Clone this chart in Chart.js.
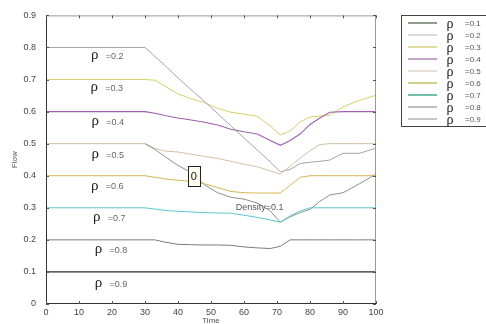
<!DOCTYPE html>
<html><head><meta charset="utf-8">
<script src="https://cdn.jsdelivr.net/npm/chart.js@4/dist/chart.umd.min.js"></script>
<style>html,body{margin:0;padding:0;background:#fff;overflow:hidden}#wrap{width:486px;height:324px;position:relative}</style>
</head><body><div id="wrap"><canvas id="c" width="486" height="324"></canvas></div>
<script>
const times = [0,30,33,36,40,44,48,52,56,60,64,68,71,74,77,80,83,86,90,95,100];
const flowRho01 = [null,0.5,0.482,0.46,0.432,0.41,0.372,0.347,0.333,0.327,0.315,0.29,0.255,0.272,0.285,0.295,0.32,0.34,0.347,0.375,0.405];
const flowRho02 = [0.8,0.8,0.772,0.744,0.705,0.668,0.632,0.594,0.556,0.518,0.48,0.443,0.412,0.42,0.438,0.442,0.445,0.449,0.47,0.47,0.486];
const flowRho03 = [0.7,0.7,0.698,0.68,0.655,0.64,0.628,0.61,0.598,0.592,0.585,0.555,0.527,0.54,0.568,0.583,0.586,0.588,0.615,0.635,0.651];
const flowRho04 = [0.6,0.6,0.595,0.588,0.58,0.574,0.567,0.558,0.545,0.537,0.53,0.51,0.495,0.51,0.53,0.56,0.58,0.598,0.6,0.6,0.6];
const flowRho05 = [0.5,0.5,0.485,0.477,0.474,0.467,0.46,0.454,0.445,0.436,0.428,0.415,0.405,0.43,0.455,0.478,0.497,0.5,0.5,0.5,0.5];
const flowRho06 = [0.4,0.4,0.395,0.39,0.386,0.382,0.375,0.363,0.351,0.347,0.346,0.346,0.346,0.37,0.395,0.4,0.4,0.4,0.4,0.4,0.4];
const flowRho07 = [0.3,0.3,0.296,0.292,0.289,0.287,0.285,0.284,0.283,0.277,0.27,0.262,0.255,0.275,0.29,0.3,0.3,0.3,0.3,0.3,0.3];
const flowRho08 = [0.2,0.2,0.2,0.193,0.186,0.185,0.184,0.184,0.183,0.178,0.175,0.173,0.18,0.2,0.2,0.2,0.2,0.2,0.2,0.2,0.2];
const flowRho09 = [0.1,0.1,0.1,0.1,0.1,0.1,0.1,0.1,0.1,0.1,0.1,0.1,0.1,0.1,0.1,0.1,0.1,0.1,0.1,0.1,0.1];

const legendNames = ['=0.1','=0.2','=0.3','=0.4','=0.5','=0.6','=0.7','=0.8','=0.9'];
const legendColors = ['#566a52','#c8c8c8','#d2ca72','#a274aa','#dccdbb','#bcb44e','#2c9c7c','#9c9c9c','#a8a8a8'];
const lineColors = ['#8e928c','#a4a4ac','#d6cf6a','#a060ae','#d2c2a2','#d8b454','#5cc6d2','#7c7c7c','#2a2a3a'];
const lineWidths = [1,1,1,1.1,1,1,1,1,1.3];

const inPlotLabels = ['=0.2','=0.3','=0.4','=0.5','=0.6','=0.7','=0.8','=0.9'];
const inPlotLabelX = [14.8,14.6,14.9,14.9,14.8,15.4,15.9,15.9];
const inPlotLabelY = [0.776,0.676,0.57,0.467,0.368,0.271,0.171,0.065];

const xTickLabels = ['0','10','20','30','40','50','60','70','80','90','100'];
const yTickLabels = ['0','0.1','0.2','0.3','0.4','0.5','0.6','0.7','0.8','0.9'];

const seriesFlows = [flowRho01,flowRho02,flowRho03,flowRho04,flowRho05,flowRho06,flowRho07,flowRho08,flowRho09];
const drawOrder = [8,7,6,5,0,4,3,1,2];
const datasets = drawOrder.map(i => ({
  label: legendNames[i],
  data: times.map((t,k) => ({x:t, y:seriesFlows[i][k]})),
  borderColor: lineColors[i],
  borderWidth: lineWidths[i],
  pointRadius: 0,
  tension: 0,
  fill: false,
  spanGaps: false
}));

const annot = {
  id: 'annot',
  beforeDraw(chart){
    const ctx = chart.ctx;
    ctx.save(); ctx.fillStyle = '#fff'; ctx.fillRect(0,0,chart.width,chart.height); ctx.restore();
  },
  afterDatasetsDraw(chart){
    const {ctx, chartArea:a, scales:{x,y}} = chart;
    ctx.save();
    ctx.lineWidth = 1;
    ctx.strokeStyle = '#9a9a9a';
    ctx.beginPath();
    ctx.moveTo(a.left, a.top+0.5); ctx.lineTo(a.right, a.top+0.5);
    ctx.moveTo(a.right-0.5, a.top); ctx.lineTo(a.right-0.5, a.bottom);
    ctx.stroke();
    ctx.strokeStyle = '#333';
    ctx.beginPath();
    ctx.moveTo(a.left+0.5, a.top); ctx.lineTo(a.left+0.5, a.bottom);
    ctx.moveTo(a.left, a.bottom-0.5); ctx.lineTo(a.right, a.bottom-0.5);
    ctx.stroke();
    ctx.strokeStyle = '#555';
    ctx.beginPath();
    x.ticks.forEach(t => {
      const px = Math.round(x.getPixelForValue(t.value))+0.5;
      ctx.moveTo(px, a.bottom); ctx.lineTo(px, a.bottom-3);
      ctx.moveTo(px, a.top); ctx.lineTo(px, a.top+3);
    });
    y.ticks.forEach(t => {
      const py = Math.round(y.getPixelForValue(t.value))+0.5;
      ctx.moveTo(a.left, py); ctx.lineTo(a.left+3, py);
      ctx.moveTo(a.right, py); ctx.lineTo(a.right-3, py);
    });
    ctx.stroke();
    inPlotLabels.forEach((s,i) => {
      const px = x.getPixelForValue(inPlotLabelX[i]);
      const py = y.getPixelForValue(inPlotLabelY[i]);
      ctx.fillStyle = '#222';
      ctx.font = '15px "Liberation Serif"';
      ctx.textAlign = 'center'; ctx.textBaseline = 'middle';
      ctx.fillText('ρ', px, py);
      ctx.fillStyle = '#666';
      ctx.font = '9px "Liberation Sans"';
      ctx.textAlign = 'left';
      ctx.fillText(s, px+11, py+1);
    });
    const bx = x.getPixelForValue(44.8), by = y.getPixelForValue(0.4);
    ctx.fillStyle = '#fffdf0';
    ctx.fillRect(bx-6, by-10, 12, 20);
    ctx.strokeStyle = '#222'; ctx.lineWidth = 1;
    ctx.strokeRect(Math.round(bx-6)+0.5, Math.round(by-10)+0.5, 12, 20);
    ctx.fillStyle = '#111';
    ctx.font = '11px "Liberation Sans"';
    ctx.textAlign = 'center'; ctx.textBaseline = 'middle';
    ctx.fillText('0', bx, by+1);
    ctx.fillStyle = '#555';
    ctx.font = '9px "Liberation Sans"';
    ctx.textAlign = 'left';
    ctx.fillText('Density=0.1', x.getPixelForValue(57.5), y.getPixelForValue(0.302));
    ctx.fillStyle = '#555';
    ctx.font = '8px "Liberation Sans"';
    ctx.textAlign = 'center';
    ctx.fillText('Time', (a.left+a.right)/2, 321);
    ctx.save();
    ctx.translate(15, (a.top+a.bottom)/2);
    ctx.rotate(-Math.PI/2);
    ctx.fillText('Flow', 0, 0);
    ctx.restore();
    const lx = 401, ly = 15, lh = 111;
    ctx.fillStyle = '#fff';
    ctx.fillRect(lx, ly, 100, lh);
    ctx.strokeStyle = '#444';
    ctx.strokeRect(lx+0.5, ly+0.5, 100, lh);
    legendNames.forEach((s,i) => {
      const ry = ly + 8 + i*12;
      ctx.strokeStyle = legendColors[i];
      ctx.lineWidth = 1.3;
      ctx.beginPath(); ctx.moveTo(408, ry); ctx.lineTo(437, ry); ctx.stroke();
      ctx.fillStyle = '#222';
      ctx.font = '14px "Liberation Serif"';
      ctx.textAlign = 'center'; ctx.textBaseline = 'middle';
      ctx.fillText('ρ', 450, ry+1);
      ctx.fillStyle = '#555';
      ctx.font = '8px "Liberation Sans"';
      ctx.textAlign = 'left';
      ctx.fillText(s, 465, ry+1);
    });
    ctx.restore();
  }
};

new Chart(document.getElementById('c'), {
  type: 'line',
  data: { datasets },
  options: {
    responsive: false,
    animation: false,
    events: [],
    layout: { padding: { left: 0, right: 110, top: 15, bottom: 0 } },
    plugins: { legend: { display: false }, tooltip: { enabled: false } },
    scales: {
      x: {
        type: 'linear', min: 0, max: 100,
        afterFit: s => { s.height = 20; },
        grid: { display: false, drawTicks: false },
        border: { display: false },
        ticks: { stepSize: 10, padding: 3, color: '#444', font: { family: 'Liberation Sans', size: 9 }, maxRotation: 0,
          callback: (v, i) => xTickLabels[i] }
      },
      y: {
        type: 'linear', min: 0, max: 0.9,
        afterFit: s => { s.width = 46; },
        grid: { display: false, drawTicks: false },
        border: { display: false },
        ticks: { stepSize: 0.1, padding: 10, color: '#444', font: { family: 'Liberation Sans', size: 9 },
          callback: (v, i) => yTickLabels[i] }
      }
    }
  },
  plugins: [annot]
});
</script></body></html>
